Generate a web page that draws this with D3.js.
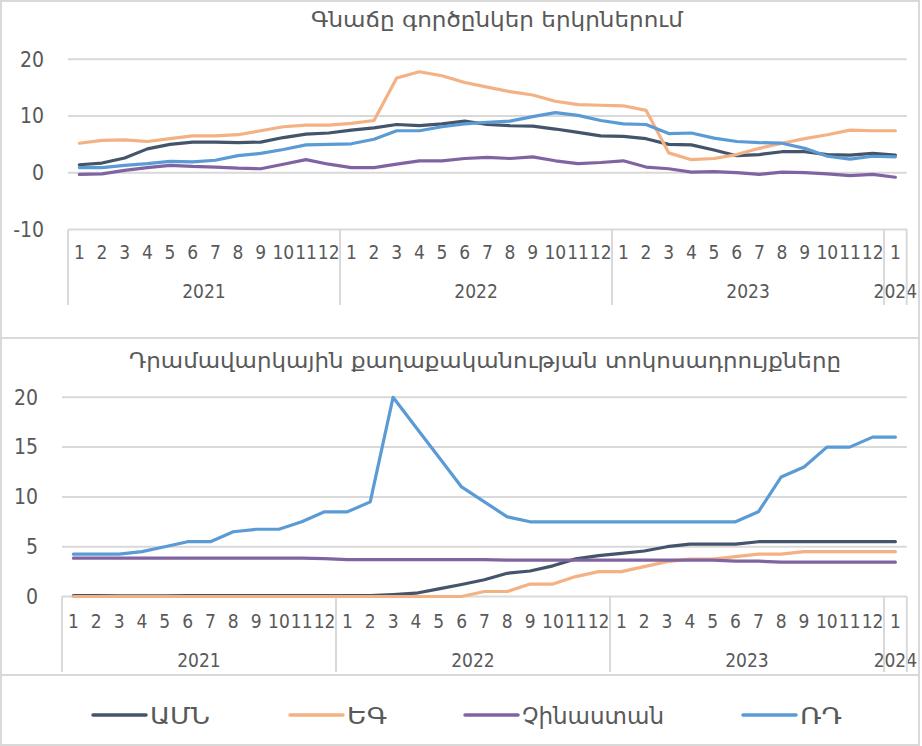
<!DOCTYPE html>
<html>
<head>
<meta charset="utf-8">
<script src="https://cdn.jsdelivr.net/npm/d3@7"></script>
<style>
    body { margin: 0; background: #fff; }
    svg text { font-family: "DejaVu Sans Condensed", "DejaVu Sans", sans-serif; fill: #595959; }
</style>
</head>
<body>
<svg class="target" width="922" height="746"></svg>
<script>
// categories
var month_labels = ["1","2","3","4","5","6","7","8","9","10","11","12",
                    "1","2","3","4","5","6","7","8","9","10","11","12",
                    "1","2","3","4","5","6","7","8","9","10","11","12",
                    "1"];
var year_labels = ["2021", "2022", "2023", "2024"];
var year_sizes = [12, 12, 12, 1];

var series_names = ["ԱՄՆ", "ԵԳ", "Չինաստան", "ՌԴ"];
var colors = ["#44546a", "#f4b183", "#8064a2", "#5b9bd5"];

// top panel: inflation
var infl_amn = [1.4,1.7,2.6,4.2,5.0,5.4,5.4,5.3,5.4,6.2,6.8,7.0,
                7.5,7.9,8.5,8.3,8.6,9.1,8.5,8.3,8.2,7.7,7.1,6.5,
                6.4,6.0,5.0,4.9,4.0,3.0,3.2,3.7,3.7,3.2,3.1,3.4,
                3.1];
var infl_eg = [5.2,5.7,5.8,5.5,6.0,6.5,6.5,6.7,7.4,8.1,8.4,8.4,
               8.7,9.2,16.7,17.8,17.1,15.9,15.1,14.3,13.7,12.6,12.0,11.9,
               11.8,11.0,3.5,2.3,2.5,3.2,4.3,5.2,6.0,6.7,7.5,7.4,
               7.4];
var infl_chin = [-0.3,-0.2,0.4,0.9,1.3,1.1,1.0,0.8,0.7,1.5,2.3,1.5,
                 0.9,0.9,1.5,2.1,2.1,2.5,2.7,2.5,2.8,2.1,1.6,1.8,
                 2.1,1.0,0.7,0.1,0.2,0.0,-0.3,0.1,0.0,-0.2,-0.5,-0.3,
                 -0.8];
var infl_rd = [0.9,0.9,1.3,1.6,2.0,1.9,2.2,3.0,3.4,4.1,4.9,5.0,
               5.1,5.9,7.4,7.4,8.1,8.6,8.9,9.1,9.9,10.6,10.1,9.2,
               8.6,8.5,6.9,7.0,6.1,5.5,5.3,5.2,4.3,2.9,2.4,2.9,
               2.8];
var infl_ticks = [-10, 0, 10, 20];

// bottom panel: policy rates
var rate_amn = [0.09,0.08,0.07,0.07,0.06,0.08,0.10,0.09,0.08,0.08,0.08,0.08,
                0.08,0.08,0.20,0.33,0.77,1.21,1.68,2.33,2.56,3.08,3.78,4.10,
                4.33,4.57,5.0,5.25,5.25,5.25,5.5,5.5,5.5,5.5,5.5,5.5,
                5.5];
var rate_eg = [0,0,0,0,0,0,0,0,0,0,0,0,
               0,0,0,0,0,0,0.5,0.5,1.25,1.25,2.0,2.5,
               2.5,3.0,3.5,3.75,3.75,4.0,4.25,4.25,4.5,4.5,4.5,4.5,
               4.5];
var rate_chin = [3.85,3.85,3.85,3.85,3.85,3.85,3.85,3.85,3.85,3.85,3.85,3.8,
                 3.7,3.7,3.7,3.7,3.7,3.7,3.7,3.65,3.65,3.65,3.65,3.65,
                 3.65,3.65,3.65,3.65,3.65,3.55,3.55,3.45,3.45,3.45,3.45,3.45,
                 3.45];
var rate_rd = [4.25,4.25,4.25,4.5,5.0,5.5,5.5,6.5,6.75,6.75,7.5,8.5,
               8.5,9.5,20,17,14,11,9.5,8,7.5,7.5,7.5,7.5,
               7.5,7.5,7.5,7.5,7.5,7.5,8.5,12,13,15,15,16,
               16];
var rate_ticks = [0, 5, 10, 15, 20];

const svg = d3.select(".target");
const grid_color = "#d9d9d9";

var draw_hline = function (x1, x2, y) {
    svg.append("line")
        .attr("x1", x1).attr("x2", x2)
        .attr("y1", y).attr("y2", y)
        .style("stroke", grid_color)
        .style("stroke-width", 2);
}

var draw_vline = function (x, y1, y2) {
    svg.append("line")
        .attr("x1", x).attr("x2", x)
        .attr("y1", y1).attr("y2", y2)
        .style("stroke", grid_color)
        .style("stroke-width", 2);
}

var draw_panel = function (p) {
    var idx = d3.range(month_labels.length);
    var x = d3.scaleBand().domain(idx).range([p.left, p.right]).padding(0);
    var y = d3.scaleLinear().domain(p.domain).range([p.bottom, p.top]);

    // title (the original font is wider, so stretch it a bit)
    svg.append("text")
        .attr("x", p.title_x).attr("y", p.title_y)
        .attr("text-anchor", "middle")
        .attr("textLength", p.title_w)
        .attr("lengthAdjust", "spacingAndGlyphs")
        .style("font-size", "22px")
        .text(p.title);

    // gridlines + y labels
    p.ticks.forEach(function (t) {
        draw_hline(p.left, p.right, y(t));
        svg.append("text")
            .attr("x", p.label_x).attr("y", y(t))
            .attr("dy", "0.35em")
            .attr("text-anchor", "end")
            .style("font-size", "21px")
            .text(t);
    });

    // category box
    var start = 0;
    year_sizes.forEach(function (n, k) {
        var xa = x(start);
        var xb = x(start + n - 1) + x.bandwidth();
        draw_vline(xa, p.bottom, p.box_bottom);
        svg.append("text")
            .attr("x", (xa + xb) / 2).attr("y", p.year_y)
            .attr("dy", "0.35em")
            .attr("text-anchor", "middle")
            .style("font-size", "19px")
            .text(year_labels[k]);
        start += n;
    });
    draw_vline(p.right, p.bottom, p.box_bottom);

    svg.append("g")
        .selectAll("text")
        .data(idx)
        .join("text")
        .attr("x", d => x(d) + x.bandwidth() / 2)
        .attr("y", p.month_y)
        .attr("dy", "0.35em")
        .attr("text-anchor", "middle")
        .style("font-size", "19px")
        .text(d => month_labels[d]);

    // lines
    var line = d3.line()
        .x((d, i) => x(i) + x.bandwidth() / 2)
        .y(d => y(d));

    p.series.forEach(function (vals, i) {
        svg.append("path")
            .datum(vals)
            .attr("d", line)
            .style("fill", "none")
            .style("stroke", colors[i])
            .style("stroke-width", 3.2)
            .style("stroke-linejoin", "round")
            .style("stroke-linecap", "round");
    });
}

// frame
svg.append("rect")
    .attr("x", 1).attr("y", 1)
    .attr("width", 918).attr("height", 744)
    .style("fill", "none")
    .style("stroke", grid_color)
    .style("stroke-width", 2);
draw_hline(1, 919, 338);
draw_hline(1, 919, 675);

draw_panel({
    title: "Գնաճը գործընկեր երկրներում",
    title_x: 497, title_y: 27, title_w: 372,
    left: 68, right: 906.7,
    top: 59.3, bottom: 229.4,
    domain: [-10, 20],
    ticks: infl_ticks,
    label_x: 44,
    month_y: 252, year_y: 291, box_bottom: 305,
    series: [infl_amn, infl_eg, infl_chin, infl_rd]
});

draw_panel({
    title: "Դրամավարկային քաղաքականության տոկոսադրույքները",
    title_x: 485, title_y: 368, title_w: 712,
    left: 62, right: 906.8,
    top: 397.3, bottom: 596.5,
    domain: [0, 20],
    ticks: rate_ticks,
    label_x: 38,
    month_y: 621, year_y: 660, box_bottom: 672,
    series: [rate_amn, rate_eg, rate_chin, rate_rd]
});

// legend
var legend_x = [93, 290, 465, 743];
var legend_w = [60, 40, 142, 42];
series_names.forEach(function (name, i) {
    svg.append("line")
        .attr("x1", legend_x[i]).attr("x2", legend_x[i] + 53)
        .attr("y1", 715).attr("y2", 715)
        .style("stroke", colors[i])
        .style("stroke-width", 3.5)
        .style("stroke-linecap", "round");
    svg.append("text")
        .attr("x", legend_x[i] + 57).attr("y", 716)
        .attr("dy", "0.35em")
        .attr("textLength", legend_w[i])
        .attr("lengthAdjust", "spacingAndGlyphs")
        .style("font-size", "23px")
        .text(name);
});
</script>
</body>
</html>
